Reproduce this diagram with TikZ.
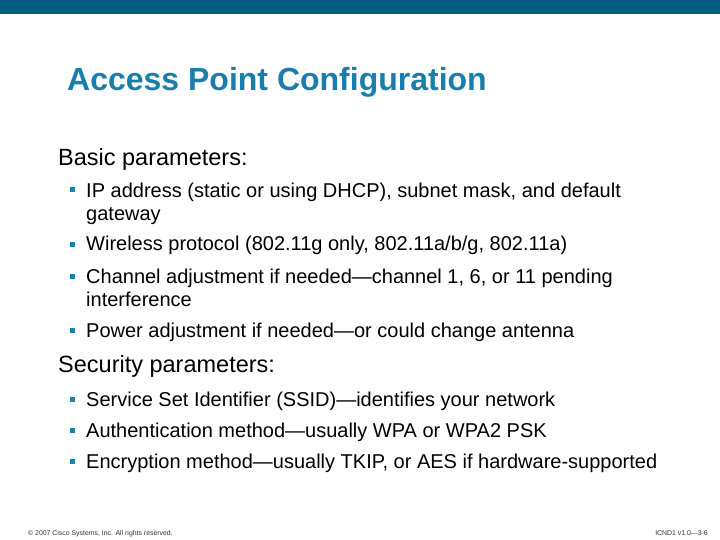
\documentclass[tikz,border=0pt]{standalone}
\usepackage{fontspec}
\setmainfont{Liberation Sans}
\begin{document}
\begin{tikzpicture}[x=1pt,y=-1pt,
  bul/.style={anchor=base west,inner sep=0pt,font=\fontsize{20}{24}\selectfont},
  head/.style={anchor=base west,inner sep=0pt,font=\fontsize{23.5}{28}\selectfont},
  sq/.style={fill=bulblue,minimum size=5pt,inner sep=0pt},
  foot/.style={inner sep=0pt,font=\fontsize{6.9}{8}\selectfont,text=black!80}]
\definecolor{barblue}{HTML}{005C82}
\definecolor{titleblue}{HTML}{1A7EAD}
\definecolor{bulblue}{HTML}{1F7FB0}
\useasboundingbox (0,0) rectangle (720,540);
\fill[white] (0,0) rectangle (720,540);
\fill[barblue] (0,0) rectangle (720,14);
\node[anchor=base west,inner sep=0pt,text=titleblue,font=\bfseries\fontsize{32}{36}\selectfont] (title) at (67,91) {Access Point Configuration};
\node[head] (basic) at (58,166) {Basic parameters:};
\node[sq] (s1) at (72,190) {}; \node[bul] (b1) at (86,197) {IP address (static or using DHCP), subnet mask, and default};
\node[bul] (b1b) at (86,221) {gateway};
\node[sq] (s2) at (72,244) {}; \node[bul] (b2) at (86,251) {Wireless protocol (802.11g only, 802.11a/b/g, 802.11a)};
\node[sq] (s3) at (72,276) {}; \node[bul] (b3) at (86,283) {Channel adjustment if needed---channel 1, 6, or 11 pending};
\node[bul] (b3b) at (86,306) {interference};
\node[sq] (s4) at (72,330) {}; \node[bul] (b4) at (86,337) {Power adjustment if needed---or could change antenna};
\node[head] (sec) at (58,372) {Security parameters:};
\node[sq] (s5) at (72,399) {}; \node[bul] (b5) at (86,406) {Service Set Identifier (SSID)---identifies your network};
\node[sq] (s6) at (72,430) {}; \node[bul] (b6) at (86,437) {Authentication method---usually WPA or WPA2 PSK};
\node[sq] (s7) at (72,461) {}; \node[bul] (b7) at (86,468) {Encryption method---usually TKIP, or AES if hardware-supported};
\node[foot,anchor=base west] (copy) at (28,535) {© 2007 Cisco Systems, Inc. All rights reserved.};
\node[foot,anchor=base east] (num) at (708,535) {ICND1 v1.0---3-6};
\end{tikzpicture}
\end{document}
